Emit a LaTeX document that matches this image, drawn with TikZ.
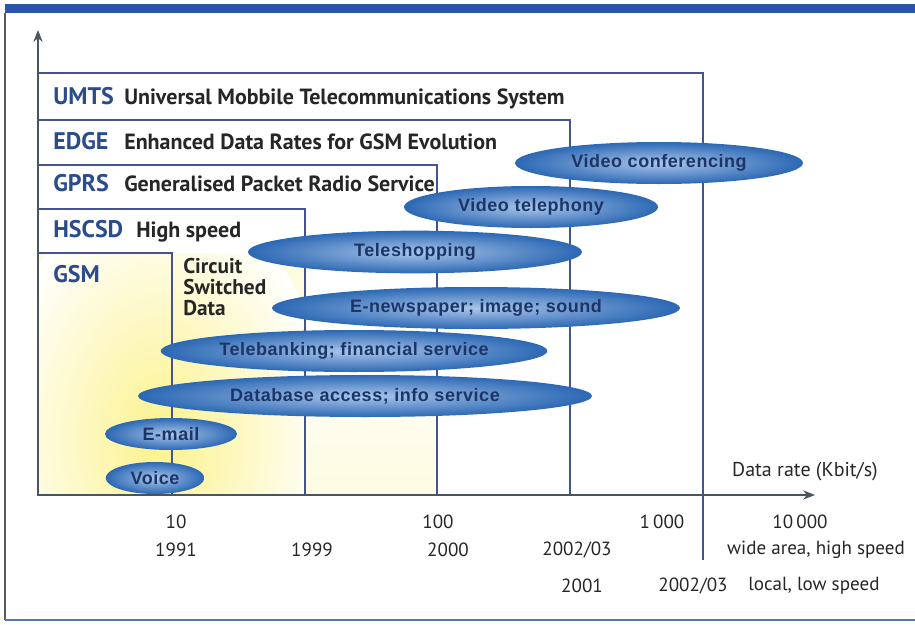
\documentclass[tikz,border=0pt]{standalone}
\usepackage{fontspec}
\setmainfont{PT Sans}
\newfontfamily\ellfont[LetterSpace=3]{Liberation Sans}
\usetikzlibrary{arrows,arrows.meta,shapes.geometric,backgrounds}
\definecolor{barblue}{HTML}{2A55A8}
\definecolor{boxblue}{HTML}{44548E}
\definecolor{lblblue}{HTML}{2B4C8C}
\definecolor{txtgray}{HTML}{262626}
\definecolor{ellblue}{HTML}{2C68B4}
\definecolor{elllight}{HTML}{A9C6EA}
\definecolor{elltext}{HTML}{1D3566}
\definecolor{axisgray}{HTML}{4A5560}
\definecolor{glow}{HTML}{FCF28C}
\definecolor{cream}{HTML}{FDFBE0}

\begin{document}
\begin{tikzpicture}[x=0.75pt,y=-0.75pt,
  system/.style={draw=boxblue,line width=0.8pt},
  syslabel/.style={anchor=base west,inner sep=0pt,font=\fontsize{18}{20}\selectfont\bfseries,text=lblblue},
  sysname/.style={anchor=base west,inner sep=0pt,font=\fontsize{16.5}{18}\selectfont\bfseries,text=txtgray},
  service/.style={ellipse,inner sep=0pt,shading=radial,inner color=elllight,outer color=ellblue,
    font=\ellfont\fontsize{13.5}{15}\selectfont\bfseries,text=elltext},
  tick/.style={inner sep=0pt,font=\fontsize{14.3}{16}\selectfont,text=txtgray}]
\useasboundingbox (0,0) rectangle (915,625);

% frame
\fill[barblue] (5,4) rectangle (915,13);
\draw[gray!70!black,line width=0.8pt] (5,13) -- (5,620);
\draw[barblue!80,line width=1.6pt] (5,620) -- (915,620);

% yellow glow
\begin{scope}
\clip (38,253) rectangle (305,495);
\fill[cream] (38,253) rectangle (305,495);
\shade[inner color=glow,outer color=white] (160,440) ellipse (170 and 250);
\end{scope}
\shade[top color=white,bottom color=cream] (305,330) rectangle (437,495);

% systems
\draw[system] (38,73) rectangle (703,495);
\draw[system] (703,495) -- (703,560);
\draw[system] (38,120) rectangle (570,495);
\draw[system] (38,165) rectangle (437,495);
\draw[system] (38,209) rectangle (305,495);
\draw[system] (38,253) rectangle (172,495);

\node[syslabel] (umts) at (53,104) {UMTS};
\node[sysname] at (124,104) {Universal Mobbile Telecommunications System};
\node[syslabel] (edge) at (53,149) {EDGE};
\node[sysname] at (124,149) {Enhanced Data Rates for GSM Evolution};
\node[syslabel] (gprs) at (53,191) {GPRS};
\node[sysname] at (124,191) {Generalised Packet Radio Service};
\node[syslabel] (hscsd) at (53,237) {HSCSD};
\node[sysname] at (136,237) {High speed};
\node[syslabel] (gsm) at (53,282) {GSM};
\node[sysname,anchor=north west,align=left,font=\fontsize{16}{15.75}\selectfont\bfseries] (csd) at (183,258) {Circuit\\Switched\\Data};

% axes
\coordinate (O) at (38,495);
\coordinate (ytip) at (38,30);
\coordinate (xtip) at (815,495);
\draw[axisgray,line width=0.8pt,-{Stealth[length=9pt,width=7pt]}] (O) -- (ytip);
\draw[axisgray,line width=0.8pt,-{Stealth[length=9pt,width=7pt]}] (O) -- (xtip);
\node[tick,font=\fontsize{15}{17}\selectfont] (rate) at (805,472) {Data rate (Kbit/s)};

% services
\node[service,minimum width=216pt,minimum height=31.5pt] (vconf) at (659,163) {Video conferencing};
\node[service,minimum width=190.5pt,minimum height=31.5pt] (vtel) at (531,207) {Video telephony};
\node[service,minimum width=250.5pt,minimum height=32pt] (tshop) at (415,252) {Teleshopping};
\node[service,minimum width=306pt,minimum height=31.5pt] (enews) at (476,308) {E-newspaper; image; sound};
\node[service,minimum width=290pt,minimum height=31.5pt] (tbank) at (354,351) {Telebanking; financial service};
\node[service,minimum width=340.5pt,minimum height=31.5pt] (dbase) at (365,396) {Database access; info service};
\node[service,minimum width=99pt,minimum height=24pt] (email) at (171,434) {E-mail};
\node[service,minimum width=74pt,minimum height=24pt] (voice) at (155,478) {Voice};

% rates and years
\node[tick] (r10) at (176,522) {10};
\node[tick] (r100) at (438,522) {100};
\node[tick] (r1k) at (662,522) {1\,000};
\node[tick] (r10k) at (800,522) {10\,000};
\node[tick] (y91) at (176,550) {1991};
\node[tick] (y99) at (312,550) {1999};
\node[tick] (y00) at (448,550) {2000};
\node[tick] (y02) at (577,550) {2002/03};
\node[tick] (wide) at (816,550) {wide area, high speed};
\node[tick] (y01) at (582,586) {2001};
\node[tick] (y02b) at (693,586) {2002/03};
\node[tick,anchor=west] (local) at (748,586) {local, low speed};
\end{tikzpicture}
\end{document}
